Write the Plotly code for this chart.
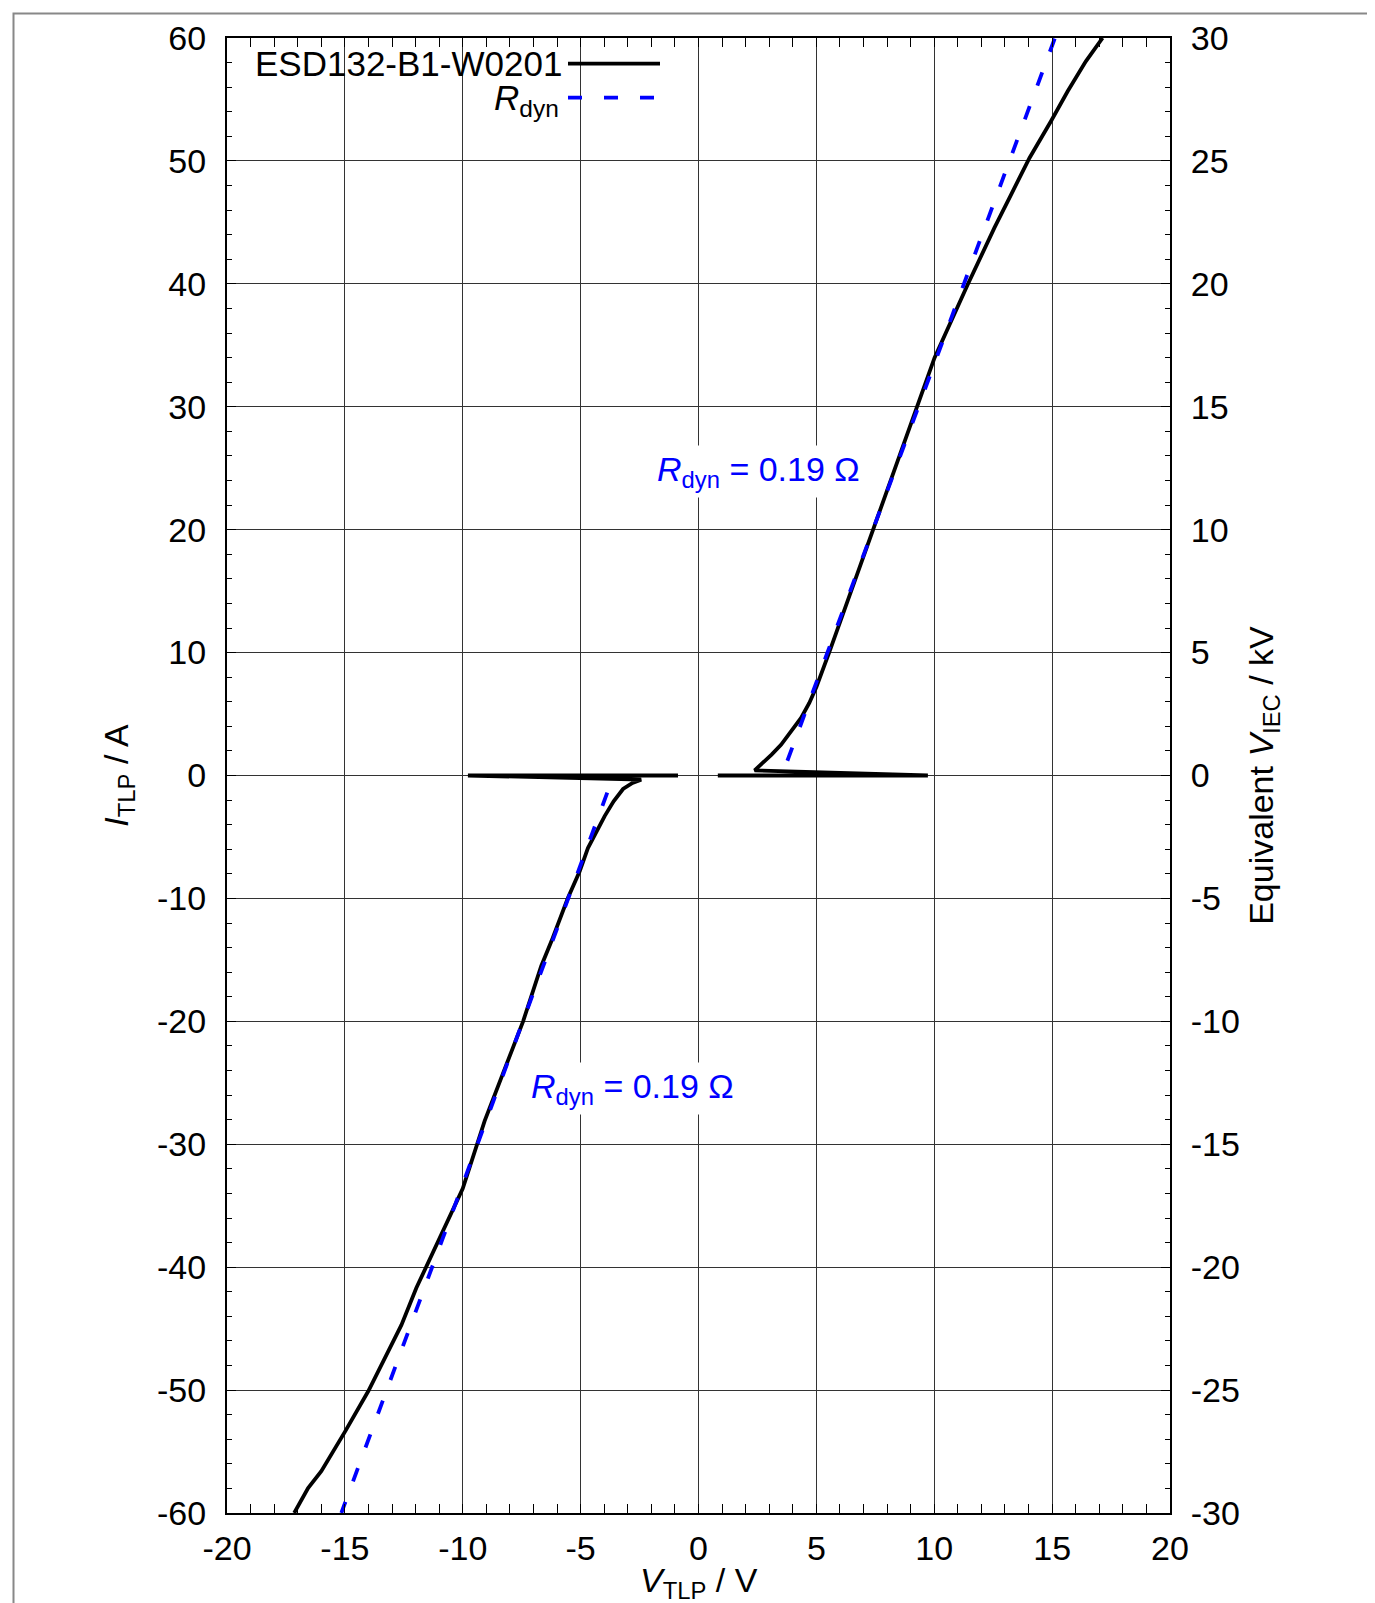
import plotly.graph_objects as go

# ---------------- data ----------------
# positive polarity TLP curve: leakage sweep, snap back, then on-state
esd_pos_v = [0.82, 9.73, 2.38, 2.70, 3.10, 3.50, 3.90, 4.35, 4.70, 5.00, 5.56, 6.62,
             7.42, 8.31, 9.30, 10.01, 11.42, 12.55, 13.26, 14.04, 14.95, 15.66,
             16.43, 17.14]
esd_pos_i = [0.0, 0.0, 0.42, 0.95, 1.70, 2.50, 3.50, 4.68, 5.90, 7.20, 10.1, 15.8,
             20.1, 24.75, 30.3, 33.97, 39.94, 44.55, 47.26, 50.24, 53.23, 55.67,
             58.1, 60.0]

# negative polarity TLP curve
esd_neg_v = [-0.87, -9.78, -2.43, -2.80, -3.20, -3.60, -3.98, -4.40, -4.69, -5.04,
             -5.54, -6.24, -6.67, -7.44, -8.22, -9.07, -10.0, -11.55, -11.97,
             -12.60, -13.17, -14.01, -15.0, -16.0, -16.56, -17.15]
esd_neg_i = [0.0, 0.0, -0.34, -0.60, -1.10, -2.10, -3.30, -4.80, -5.90, -7.80,
             -9.97, -13.49, -15.5, -20.0, -23.8, -28.1, -33.6, -40.0, -41.7,
             -44.7, -46.85, -50.1, -53.4, -56.6, -57.97, -60.0]

# dynamic resistance fit lines
rdyn_pos_v = [3.77, 15.12]
rdyn_pos_i = [1.2, 60.0]
rdyn_neg_v = [-3.87, -15.15]
rdyn_neg_i = [-1.4, -60.0]

# ticks
x_tick_vals = [-20, -15, -10, -5, 0, 5, 10, 15, 20]
x_tick_text = ["-20", "-15", "-10", "-5", "0", "5", "10", "15", "20"]
y_tick_vals = [-60, -50, -40, -30, -20, -10, 0, 10, 20, 30, 40, 50, 60]
y_tick_text = ["-60", "-50", "-40", "-30", "-20", "-10", "0", "10", "20", "30", "40", "50", "60"]
y2_tick_vals = [-30, -25, -20, -15, -10, -5, 0, 5, 10, 15, 20, 25, 30]
y2_tick_text = ["-30", "-25", "-20", "-15", "-10", "-5", "0", "5", "10", "15", "20", "25", "30"]

legend_names = ["ESD132-B1-W0201", "<i>R</i><sub>dyn</sub>"]
rdyn_label = "<i>R</i><sub>dyn</sub> = 0.19 Ω"
x_title = "<i>V</i><sub>TLP</sub> / V"
y_title = "<i>I</i><sub>TLP</sub> / A"
y2_title = "Equivalent <i>V</i><sub>IEC</sub> / kV"

# ---------------- figure ----------------
W, H = 1375, 1603
ML, MR, MT, MB = 219, 213, 30, 98
PW, PH = W - ML - MR, H - MT - MB


def px2paper_x(px):
    return (px - ML) / PW


def px2paper_y(py):
    return (H - MB - py) / PH


FONT = "Liberation Sans, Arial, sans-serif"
FS = 34
BLUE = "#0000FF"
LW = 3.8
DASH = "14px,22px"

fig = go.Figure()

fig.add_trace(go.Scatter(x=esd_pos_v, y=esd_pos_i, mode="lines",
                         line=dict(color="black", width=LW), showlegend=False,
                         name=legend_names[0]))
fig.add_trace(go.Scatter(x=esd_neg_v, y=esd_neg_i, mode="lines",
                         line=dict(color="black", width=LW), showlegend=False,
                         name=legend_names[0]))
fig.add_trace(go.Scatter(x=rdyn_pos_v, y=rdyn_pos_i, mode="lines",
                         line=dict(color=BLUE, width=LW, dash=DASH),
                         showlegend=False, name="Rdyn"))
fig.add_trace(go.Scatter(x=rdyn_neg_v, y=rdyn_neg_i, mode="lines",
                         line=dict(color=BLUE, width=LW, dash=DASH),
                         showlegend=False, name="Rdyn"))
# invisible trace to activate the secondary (right) axis
fig.add_trace(go.Scatter(x=[0], y=[0], yaxis="y2", mode="markers",
                         marker=dict(opacity=0), showlegend=False, hoverinfo="skip"))

common_axis = dict(
    showline=True, linecolor="black", linewidth=2,
    ticks="inside", ticklen=9, tickwidth=1.2, tickcolor="black",
    tickfont=dict(family=FONT, size=FS, color="black"),
    zeroline=False,
)

fig.update_layout(
    width=W, height=H,
    margin=dict(l=ML, r=MR, t=MT, b=MB),
    paper_bgcolor="white", plot_bgcolor="white",
    font=dict(family=FONT, size=FS, color="black"),
    xaxis=dict(
        range=[-20, 20], tickmode="array", tickvals=x_tick_vals, ticktext=x_tick_text,
        showgrid=True, gridcolor="#333333", gridwidth=1,
        mirror="allticks", ticklabelstandoff=4,
        minor=dict(tickmode="linear", tick0=0, dtick=1, ticks="inside",
                   ticklen=5, tickwidth=1.2, tickcolor="black", showgrid=False),
        **common_axis,
    ),
    yaxis=dict(
        range=[-60, 60], tickmode="array", tickvals=y_tick_vals, ticktext=y_tick_text,
        showgrid=True, gridcolor="#333333", gridwidth=1,
        ticklabelstandoff=12,
        minor=dict(tickmode="linear", tick0=0, dtick=2, ticks="inside",
                   ticklen=5, tickwidth=1.2, tickcolor="black", showgrid=False),
        title=dict(text=y_title, font=dict(family=FONT, size=FS), standoff=18),
        **common_axis,
    ),
    yaxis2=dict(
        range=[-30, 30], overlaying="y", side="right", anchor="x",
        tickmode="array", tickvals=y2_tick_vals, ticktext=y2_tick_text,
        showgrid=False, ticklabelstandoff=12,
        minor=dict(tickmode="linear", tick0=0, dtick=1, ticks="inside",
                   ticklen=5, tickwidth=1.2, tickcolor="black", showgrid=False),
        title=dict(text=y2_title, font=dict(family=FONT, size=FS), standoff=10),
        **common_axis,
    ),
)

shapes = []
# white box behind the legend (hides grid lines)
shapes.append(dict(type="rect", xref="paper", yref="paper", layer="between",
                   x0=0, x1=px2paper_x(668), y0=px2paper_y(106), y1=1,
                   fillcolor="white", line=dict(width=0)))
# legend samples
shapes.append(dict(type="line", xref="paper", yref="paper", layer="above",
                   x0=px2paper_x(560), x1=px2paper_x(652),
                   y0=px2paper_y(55.7), y1=px2paper_y(55.7),
                   line=dict(color="black", width=LW)))
shapes.append(dict(type="line", xref="paper", yref="paper", layer="above",
                   x0=px2paper_x(560), x1=px2paper_x(652),
                   y0=px2paper_y(89.7), y1=px2paper_y(89.7),
                   line=dict(color=BLUE, width=LW, dash=DASH)))
# outer frame of the picture
shapes.append(dict(type="rect", xref="paper", yref="paper", layer="above",
                   x0=px2paper_x(5.5), x1=px2paper_x(1367.5),
                   y0=px2paper_y(1640), y1=px2paper_y(5.5),
                   fillcolor="rgba(0,0,0,0)", line=dict(color="#888888", width=2)))
fig.update_layout(shapes=shapes)

annotations = [
    dict(text=legend_names[0], xref="paper", yref="paper",
         x=px2paper_x(556), y=px2paper_y(55.7), xanchor="right", yanchor="middle",
         showarrow=False, font=dict(family=FONT, size=35, color="black")),
    dict(text=legend_names[1], xref="paper", yref="paper",
         x=px2paper_x(553), y=px2paper_y(92), xanchor="right", yanchor="middle",
         showarrow=False, font=dict(family=FONT, size=35, color="black")),
    dict(text=rdyn_label, xref="x", yref="y", x=7.05, y=24.75,
         xanchor="right", yanchor="middle", showarrow=False,
         bgcolor="white", borderpad=4,
         font=dict(family=FONT, size=FS, color=BLUE)),
    dict(text=rdyn_label, xref="x", yref="y", x=-7.3, y=-25.45,
         xanchor="left", yanchor="middle", showarrow=False,
         bgcolor="white", borderpad=4,
         font=dict(family=FONT, size=FS, color=BLUE)),
    # x axis title
    dict(text=x_title, xref="paper", yref="paper",
         x=0.5, y=px2paper_y(1575), xanchor="center", yanchor="middle",
         showarrow=False, font=dict(family=FONT, size=FS, color="black")),
]
fig.update_layout(annotations=annotations)

fig.write_html("out.html")
